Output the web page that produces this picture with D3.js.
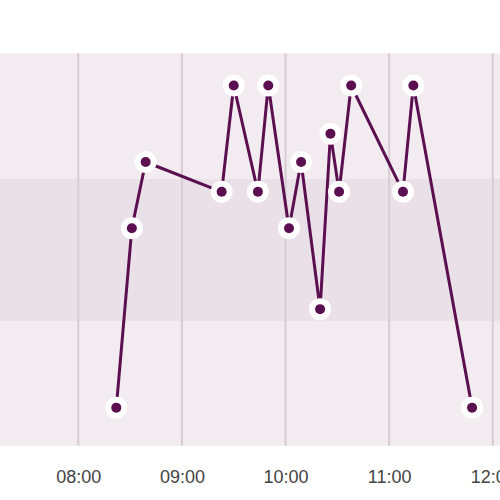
<!DOCTYPE html>
<html>
<head>
<meta charset="utf-8">
<script src="https://cdn.jsdelivr.net/npm/d3@7"></script>
<style>
  html, body { margin: 0; padding: 0; background: #ffffff; }
  svg { display: block; }
</style>
</head>
<body>
<div id="chart"></div>
<script>
// ---- data ----
const times = ["08:22", "08:31", "08:39", "09:23", "09:30", "09:44", "09:50", "10:02",
               "10:09", "10:20", "10:26", "10:31", "10:38", "11:08", "11:14", "11:48"];
const values = [9.7, 55.4, 72.3, 64.7, 91.8, 64.7, 91.8, 55.4,
                72.3, 34.8, 79.5, 64.7, 91.8, 64.7, 91.8, 9.7];
const bandBounds = [0, 31.8, 68.1, 100];          // low / target / high zones
const tickLabels = ["08:00", "09:00", "10:00", "11:00", "12:00"];
const xStart = "07:14:40", xEnd = "12:04:10";

// ---- setup ----
const W = 500, H = 500;
const margin = { top: 53.3, bottom: 54.3, left: 0, right: 0 };
const parseHM = d3.timeParse("%H:%M");
const parseHMS = d3.timeParse("%H:%M:%S");
const data = times.map((t, i) => ({ t: parseHM(t), v: values[i] }));

const svg = d3.select("#chart").append("svg").attr("width", W).attr("height", H);

const x = d3.scaleTime()
  .domain([parseHMS(xStart), parseHMS(xEnd)])
  .range([margin.left, W - margin.right]);
const y = d3.scaleLinear()
  .domain([bandBounds[0], bandBounds[bandBounds.length - 1]])
  .range([H - margin.bottom, margin.top]);

// bands
const bandColors = ["#f2ebf0", "#e9e0e8", "#f2ebf0"];
svg.append("g").selectAll("rect")
  .data(d3.range(bandBounds.length - 1))
  .join("rect")
  .attr("x", margin.left)
  .attr("width", W - margin.left - margin.right)
  .attr("y", i => y(bandBounds[i + 1]))
  .attr("height", i => y(bandBounds[i]) - y(bandBounds[i + 1]))
  .attr("fill", i => bandColors[i]);

// vertical grid
const tickDates = tickLabels.map(parseHM);
svg.append("g").selectAll("line")
  .data(tickDates)
  .join("line")
  .attr("x1", d => x(d)).attr("x2", d => x(d))
  .attr("y1", y.range()[1]).attr("y2", y.range()[0])
  .attr("stroke", "#d6ccd4")
  .attr("stroke-width", 2);

// x axis
const axis = svg.append("g")
  .attr("transform", `translate(0,${H - margin.bottom})`)
  .call(d3.axisBottom(x).tickValues(tickDates).tickFormat(d3.timeFormat("%H:%M")).tickSize(0).tickPadding(25));
axis.select(".domain").remove();
axis.selectAll("text")
  .attr("font-family", "Liberation Sans, Arial, sans-serif")
  .attr("font-size", 18)
  .attr("fill", "#444444");

// line
const lineColor = "#5b0f50";
svg.append("path")
  .datum(data)
  .attr("fill", "none")
  .attr("stroke", lineColor)
  .attr("stroke-width", 3)
  .attr("stroke-linejoin", "round")
  .attr("d", d3.line().x(d => x(d.t)).y(d => y(d.v)));

// points
const pts = svg.append("g").selectAll("g")
  .data(data)
  .join("g")
  .attr("transform", d => `translate(${x(d.t)},${y(d.v)})`);
pts.append("circle").attr("r", 11).attr("fill", "#ffffff");
pts.append("circle").attr("r", 5).attr("fill", lineColor);
</script>
</body>
</html>
